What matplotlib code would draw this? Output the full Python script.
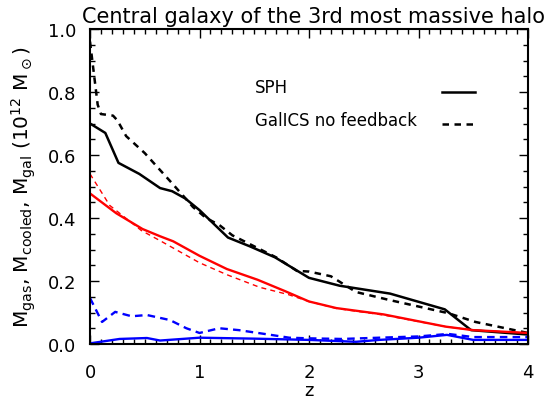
import numpy as np
import matplotlib
matplotlib.use('Agg')
import matplotlib.pyplot as plt
from matplotlib.ticker import MultipleLocator

# SPH (solid) and GalICS no feedback (dashed)
# black: M_gal, red: M_cooled, blue: M_gas
z_gal_sph = [0, 0.14, 0.26, 0.45, 0.64, 0.75, 0.87, 1.0, 1.26, 1.46, 1.69, 2.0, 2.28, 2.74, 3.24, 3.48, 4.0]
m_gal_sph = [0.70, 0.67, 0.575, 0.54, 0.495, 0.485, 0.462, 0.425, 0.338, 0.31, 0.275, 0.21, 0.185, 0.16, 0.11, 0.044, 0.030]

z_gal_gal = [0, 0.07, 0.1, 0.21, 0.25, 0.33, 0.5, 0.75, 0.86, 0.94, 1.06, 1.18, 1.3, 1.5, 1.7, 1.89, 2.0, 2.2, 2.43, 2.73, 3.27, 3.52, 4.0]
m_gal_gal = [0.96, 0.76, 0.73, 0.725, 0.71, 0.66, 0.606, 0.51, 0.467, 0.435, 0.40, 0.378, 0.345, 0.31, 0.275, 0.232, 0.23, 0.215, 0.165, 0.14, 0.098, 0.07, 0.035]

z_cool_sph = [0, 0.24, 0.48, 0.64, 0.76, 1.0, 1.25, 1.53, 1.78, 2.0, 2.25, 2.68, 3.25, 3.5, 4.0]
m_cool_sph = [0.478, 0.415, 0.365, 0.342, 0.326, 0.28, 0.238, 0.204, 0.168, 0.135, 0.114, 0.094, 0.055, 0.044, 0.035]

z_cool_gal = [0, 0.18, 0.47, 0.64, 1.0, 1.25, 1.55, 1.81, 2.0, 2.25, 2.68, 3.25, 3.5, 4.0]
m_cool_gal = [0.54, 0.44, 0.36, 0.328, 0.258, 0.22, 0.18, 0.157, 0.135, 0.113, 0.092, 0.055, 0.044, 0.035]

z_gas_sph = [0, 0.27, 0.52, 0.64, 1.0, 1.5, 2.0, 2.43, 2.64, 3.0, 3.26, 3.5, 4.0]
m_gas_sph = [0.002, 0.016, 0.019, 0.011, 0.02, 0.017, 0.013, 0.007, 0.013, 0.02, 0.029, 0.013, 0.013]

z_gas_gal = [0, 0.11, 0.23, 0.38, 0.52, 0.73, 0.88, 1.0, 1.18, 1.36, 1.67, 1.82, 2.0, 2.3, 2.64, 3.0, 3.27, 3.5, 4.0]
m_gas_gal = [0.146, 0.07, 0.102, 0.088, 0.092, 0.076, 0.05, 0.035, 0.05, 0.044, 0.028, 0.02, 0.018, 0.016, 0.02, 0.024, 0.032, 0.022, 0.022]

plt.rcParams['mathtext.fontset'] = 'dejavusans'
fig = plt.figure(figsize=(5.54, 4.02), dpi=100)
ax = fig.add_axes([90 / 554, 1 - 345 / 402, 438 / 554, 315 / 402])

dash_k = (0, (2.6, 2.2))
ax.plot(z_gal_sph, m_gal_sph, color='black', lw=1.8)
ax.plot(z_gal_gal, m_gal_gal, color='black', lw=1.8, linestyle=dash_k)
ax.plot(z_cool_sph, m_cool_sph, color='red', lw=1.7)
ax.plot(z_cool_gal, m_cool_gal, color='red', lw=1.0, linestyle=(0, (3.6, 3)))
ax.plot(z_gas_sph, m_gas_sph, color='blue', lw=1.7)
ax.plot(z_gas_gal, m_gas_gal, color='blue', lw=1.7, linestyle=(0, (3.2, 2.2)))

# legend drawn by hand, IDL style
ax.text(0.377, 0.815, 'SPH', transform=ax.transAxes, fontsize=12, va='center')
ax.text(0.377, 0.712, 'GalICS no feedback', transform=ax.transAxes, fontsize=12, va='center')
ax.plot([0.804, 0.879], [0.80, 0.80], transform=ax.transAxes, color='black', lw=1.8)
ax.plot([0.804, 0.879], [0.70, 0.70], transform=ax.transAxes, color='black', lw=1.8, linestyle=dash_k)

ax.set_xlim(0, 4)
ax.set_ylim(0, 1.0)
ax.xaxis.set_major_locator(MultipleLocator(1))
ax.xaxis.set_minor_locator(MultipleLocator(0.1))
ax.yaxis.set_major_locator(MultipleLocator(0.2))
ax.yaxis.set_minor_locator(MultipleLocator(0.05))
ax.yaxis.set_major_formatter(plt.FormatStrFormatter('%.1f'))
ax.tick_params(which='both', direction='in', top=True, right=True, width=1.0)
ax.tick_params(which='major', length=6.5, labelsize=13)
ax.tick_params(axis='x', which='major', pad=14)
ax.tick_params(axis='y', which='major', pad=10)
ax.tick_params(which='minor', length=3.5)
for s in ax.spines.values():
    s.set_linewidth(1.5)

ax.set_xlabel('z', fontsize=13, labelpad=0)
ax.set_ylabel(r'M$_{\rm gas}$, M$_{\rm cooled}$, M$_{\rm gal}$ (10$^{12}$ M$_\odot$)', fontsize=14.5, labelpad=7)
ax.set_title('Central galaxy of the 3rd most massive halo', fontsize=15, pad=5, x=0.51)

fig.savefig('out.png', dpi=100)
